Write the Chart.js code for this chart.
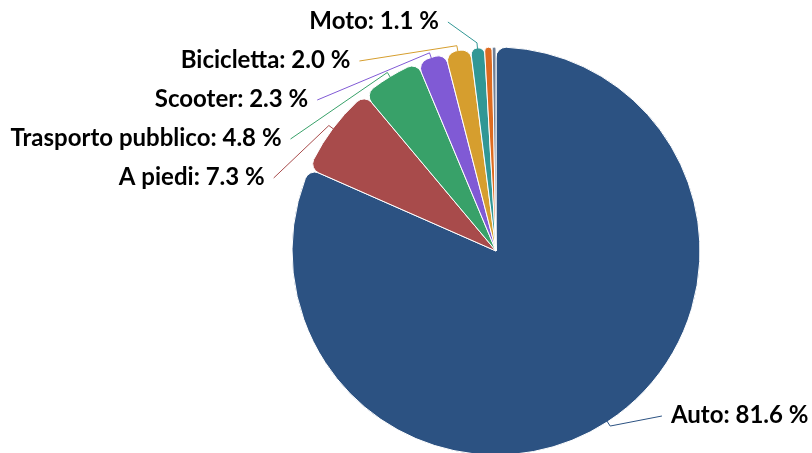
<!DOCTYPE html>
<html>
<head>
<meta charset="utf-8">
<script src="https://cdn.jsdelivr.net/npm/chart.js@4/dist/chart.umd.min.js"></script>
<style>
  html, body { margin: 0; padding: 0; background: #fff; }
  #contenitore { width: 812px; height: 453px; }
</style>
</head>
<body>
<div id="contenitore"><canvas id="graficoMobilita" width="812" height="453"></canvas></div>
<script>
// Dati (percentuali per mezzo di trasporto)
const categorie = ['Auto', 'A piedi', 'Trasporto pubblico', 'Scooter', 'Bicicletta', 'Moto', 'Altro', 'Non indicato'];
const percentuali = [81.6, 7.3, 4.8, 2.3, 2.0, 1.1, 0.6, 0.3];
const colori = ['#2c5282', '#a84b4b', '#38a169', '#805ad5', '#d69e2e', '#319795', '#dd6b20', '#718096'];

// Etichette con connettori, posizionate attorno alla torta
const etichettePlugin = {
    id: 'etichetteConnettori',
    afterDatasetsDraw(chart) {
        const ctx = chart.ctx;
        const meta = chart.getDatasetMeta(0);
        const distanza = 30, passo = 39, limiteAlto = 22, limiteBasso = 416;
        const voci = [];

        meta.data.forEach((arco, i) => {
            if (percentuali[i] < 1) return; // le fette troppo piccole non hanno etichetta
            const p = arco.getProps(['x', 'y', 'startAngle', 'endAngle', 'outerRadius'], true);
            const medio = (p.startAngle + p.endAngle) / 2;
            voci.push({
                i, cx: p.x, cy: p.y, r: p.outerRadius, medio,
                lato: Math.cos(medio) < 0 ? -1 : 1,
                y: p.y + (p.outerRadius + distanza) * Math.sin(medio)
            });
        });

        // distribuisce le etichette di ogni lato senza sovrapposizioni
        [-1, 1].forEach(lato => {
            const gruppo = voci.filter(v => v.lato === lato).sort((a, b) => a.y - b.y);
            let prec = -Infinity;
            gruppo.forEach(v => { v.y = Math.max(v.y, prec + passo, limiteAlto); prec = v.y; });
            let succ = Infinity;
            for (let k = gruppo.length - 1; k >= 0; k--) {
                gruppo[k].y = Math.min(gruppo[k].y, succ - passo, limiteBasso);
                succ = gruppo[k].y;
            }
        });

        ctx.save();
        voci.forEach(v => {
            const R = v.r + distanza;
            const dy = v.y - v.cy;
            const x = v.cx + v.lato * Math.sqrt(Math.max(R * R - dy * dy, 0));
            const piega = { x: v.cx + (v.r + 5) * Math.cos(v.medio), y: v.cy + (v.r + 5) * Math.sin(v.medio) };
            const tocco = { x: v.cx + (v.r - 1) * Math.cos(v.medio), y: v.cy + (v.r - 1) * Math.sin(v.medio) };

            ctx.strokeStyle = colori[v.i];
            ctx.lineWidth = 1;
            ctx.beginPath();
            ctx.moveTo(x, v.y);
            ctx.lineTo(piega.x, piega.y);
            ctx.lineTo(tocco.x, tocco.y);
            ctx.stroke();

            ctx.fillStyle = '#000';
            ctx.font = 'bold 24px Lato';
            ctx.textBaseline = 'middle';
            ctx.textAlign = v.lato < 0 ? 'right' : 'left';
            const testo = categorie[v.i] + ': ' + percentuali[v.i].toFixed(1) + ' %';
            ctx.fillText(testo, x + v.lato * 9, v.y - 1);
        });
        ctx.restore();
    }
};

new Chart(document.getElementById('graficoMobilita'), {
    type: 'pie',
    data: {
        labels: categorie,
        datasets: [{
            data: percentuali,
            backgroundColor: colori,
            borderColor: '#ffffff',
            borderWidth: 1,
            borderRadius: 10,
            radius: 204,
            clip: false
        }]
    },
    options: {
        responsive: false,
        animation: false,
        devicePixelRatio: 1,
        layout: { padding: { left: 180, top: 49, right: 0, bottom: 0 } },
        plugins: {
            legend: { display: false },
            tooltip: { enabled: false }
        }
    },
    plugins: [etichettePlugin]
});
</script>
</body>
</html>
